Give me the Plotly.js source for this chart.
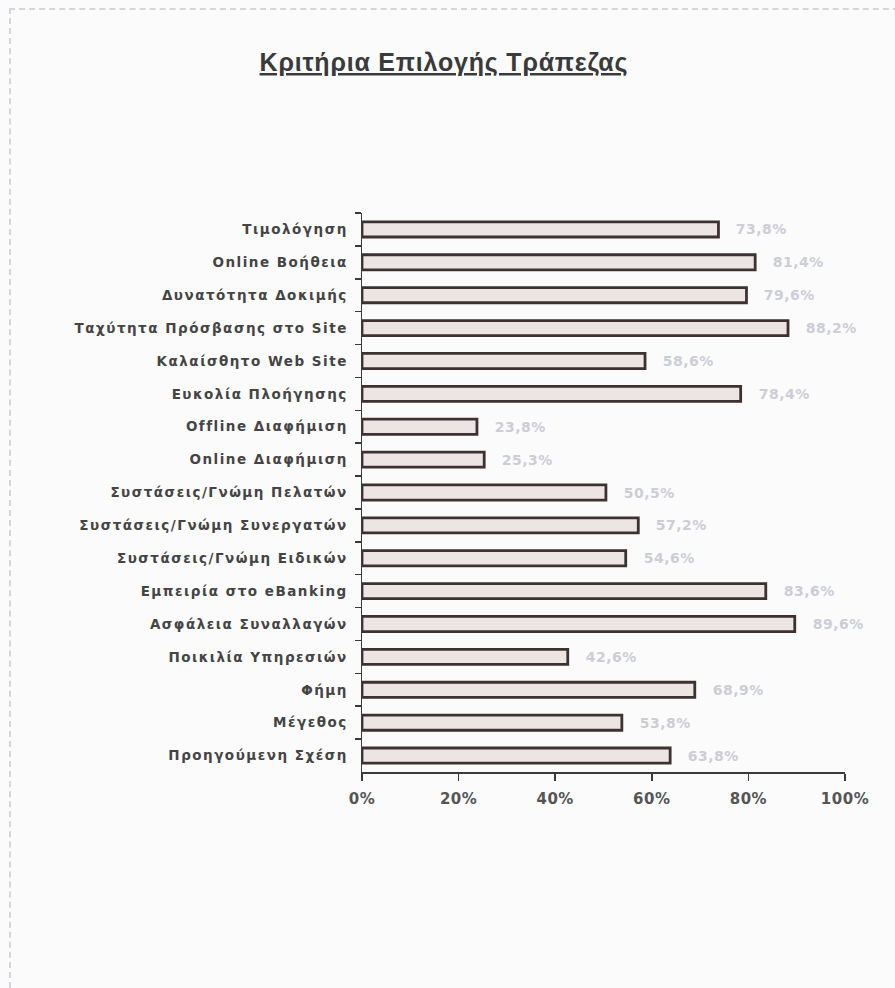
<!DOCTYPE html>
<html>
<head>
<meta charset="utf-8">
<script src="https://cdn.plot.ly/plotly-3.0.1.min.js"></script>
<style>
  html, body { margin: 0; padding: 0; background: #fbfbfc; }
  #frame { position: absolute; left: 9px; top: 8px; width: 900px; height: 990px;
           border-left: 2px dashed #d6d6da; border-top: 2px dashed #d6d6da; box-sizing: border-box; }
  #chart { position: absolute; left: 0; top: 0; width: 895px; height: 988px; }
  #chart .ytick text { letter-spacing: 1.5px; }
  #chart .xtick text { letter-spacing: 0.5px; }
  #chart .gtitle { letter-spacing: 0.8px; }
  #chart .annotation-text { letter-spacing: 0.5px; }
</style>
</head>
<body>
<div id="frame"></div>
<div id="chart"></div>
<script>
// Categories, top to bottom as in the picture
const categories = [
  "Τιμολόγηση",
  "Online Βοήθεια",
  "Δυνατότητα Δοκιμής",
  "Ταχύτητα Πρόσβασης στο Site",
  "Καλαίσθητο Web Site",
  "Ευκολία Πλοήγησης",
  "Offline Διαφήμιση",
  "Online Διαφήμιση",
  "Συστάσεις/Γνώμη Πελατών",
  "Συστάσεις/Γνώμη Συνεργατών",
  "Συστάσεις/Γνώμη Ειδικών",
  "Εμπειρία στο eBanking",
  "Ασφάλεια Συναλλαγών",
  "Ποικιλία Υπηρεσιών",
  "Φήμη",
  "Μέγεθος",
  "Προηγούμενη Σχέση"
];
// Shares (%)
const values = [73.8, 81.4, 79.6, 88.2, 58.6, 78.4, 23.8, 25.3, 50.5, 57.2, 54.6, 83.6, 89.6, 42.6, 68.9, 53.8, 63.8];
const valueLabels = values.map(v => v.toFixed(1).replace('.', ',') + '%');
const xTickVals = [0, 20, 40, 60, 80, 100];
const xTickText = ["0%", "20%", "40%", "60%", "80%", "100%"];

const bars = {
  type: 'bar',
  orientation: 'h',
  y: categories,
  x: values,
  width: 0.46,
  marker: {
    color: '#ece5e4',
    line: { color: '#3d3230', width: 2.8 }
  },
  hoverinfo: 'none'
};

const annotations = values.map((v, i) => ({
  x: v, y: categories[i], xref: 'x', yref: 'y',
  text: '<b>' + valueLabels[i] + '</b>',
  showarrow: false, xanchor: 'left', xshift: 17,
  font: { family: 'DejaVu Sans', size: 14, color: '#cdcdd5' }
}));

const layout = {
  width: 895, height: 988,
  paper_bgcolor: 'rgba(0,0,0,0)',
  plot_bgcolor: 'rgba(0,0,0,0)',
  margin: { l: 362, r: 50, t: 213, b: 216, pad: 0 },
  showlegend: false,
  title: {
    text: '<u>Κριτήρια Επιλογής Τράπεζας</u>',
    x: 0.496, xanchor: 'center', xref: 'container',
    y: 0.937, yanchor: 'middle', yref: 'container',
    font: { family: 'Liberation Sans', size: 25, color: '#3a3a3a', weight: 'bold' }
  },
  xaxis: {
    range: [0, 100],
    tickvals: xTickVals, ticktext: xTickText,
    showgrid: false, zeroline: false,
    showline: true, linecolor: '#3a3a3a', linewidth: 1.5,
    ticks: 'outside', ticklen: 7, tickcolor: '#3a3a3a', tickwidth: 1.5,
    ticklabelstandoff: 5,
    tickfont: { family: 'DejaVu Sans', size: 15, color: '#555555', weight: 'bold' },
    fixedrange: true
  },
  yaxis: {
    type: 'category',
    autorange: 'reversed',
    showgrid: false, zeroline: false,
    showline: true, linecolor: '#3a3a3a', linewidth: 1.5,
    ticks: 'outside', ticklen: 6, tickcolor: '#3a3a3a', tickwidth: 1.5,
    tickson: 'boundaries',
    ticklabelstandoff: 10,
    tickfont: { family: 'DejaVu Sans', size: 13.5, color: '#444444', weight: 'bold' },
    fixedrange: true
  },
  annotations: annotations
};

Plotly.newPlot('chart', [bars], layout, { displayModeBar: false, staticPlot: true });
</script>
</body>
</html>
